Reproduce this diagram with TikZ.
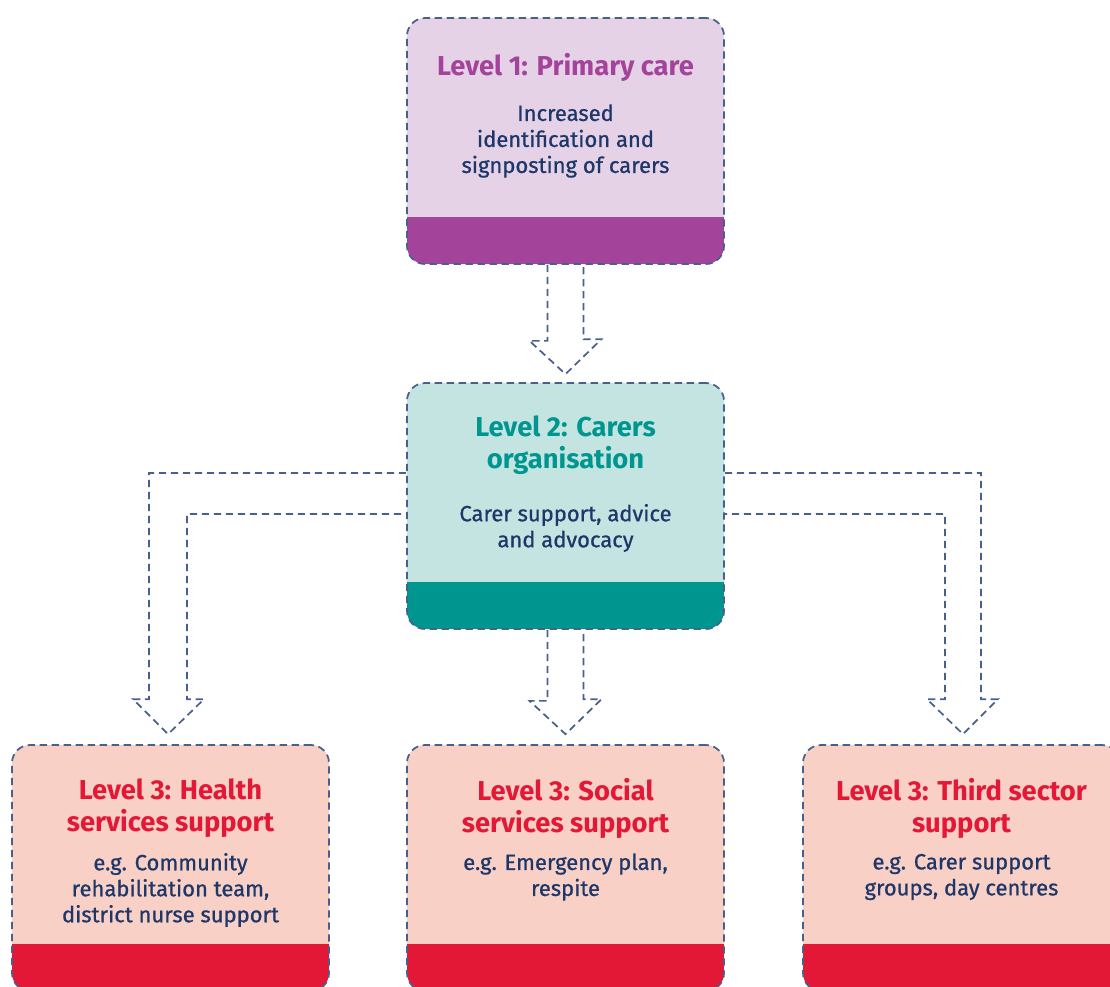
\documentclass[tikz,border=0pt]{standalone}
\usepackage{fontspec}
\setmainfont{Fira Sans}
\newfontfamily\bodyfont[FakeBold=0.8]{Fira Sans}
\usetikzlibrary{calc}
\definecolor{dashc}{RGB}{72,96,140}
\definecolor{navy}{RGB}{30,55,105}
\definecolor{purpleL}{RGB}{230,210,231}
\definecolor{purpleD}{RGB}{163,68,154}
\definecolor{tealL}{RGB}{196,228,226}
\definecolor{tealD}{RGB}{0,150,144}
\definecolor{redL}{RGB}{248,208,198}
\definecolor{redD}{RGB}{227,24,55}
\begin{document}
\begin{tikzpicture}[x=0.75pt,y=-0.75pt,
  box/.style={draw=dashc, line width=1.3pt, dash pattern=on 5.5pt off 3.5pt,
    rounded corners=13.5pt, minimum width=237.75pt, minimum height=184.5pt, inner sep=0pt},
  band/.style={path picture={\fill[#1, sharp corners] ([yshift=35.25pt]path picture bounding box.south west) rectangle (path picture bounding box.south east);}},
  conn/.style={draw=dashc, line width=1.3pt, dash pattern=on 5.5pt off 3.5pt},
  title/.style={font=\bfseries\fontsize{20.5}{24}\selectfont, align=center, text=#1},
  body/.style={font=\bodyfont\fontsize{16.5}{19.5}\selectfont, align=center, text=navy}]
\useasboundingbox (0,0) rectangle (1110,986);
\clip (0,0) rectangle (1110,986);

% boxes
\node[box, fill=purpleL, band=purpleD] (l1) at (565.5,141) {};
\node[box, fill=tealL, band=tealD] (l2) at (565.5,506) {};
\node[box, fill=redL, band=redD] (l3a) at (170.5,868) {};
\node[box, fill=redL, band=redD] (l3b) at (565.5,868) {};
\node[box, fill=redL, band=redD] (l3c) at (961.5,868) {};

% texts
\node[title=purpleD] (t1) at ($(l1)+(0,-74)$) {Level 1: Primary care};
\node[body] (b1) at ($(l1)+(0,0)$) {Increased\\identification and\\signposting of carers};
\node[title=tealD] (t2) at ($(l2)+(0,-61)$) {Level 2: Carers\\organisation};
\node[body] (b2) at ($(l2)+(0,22)$) {Carer support, advice\\and advocacy};
\node[title=redD] (t3a) at ($(l3a)+(0,-60)$) {Level 3: Health\\services support};
\node[body] (b3a) at ($(l3a)+(0,22)$) {e.g. Community\\rehabilitation team,\\district nurse support};
\node[title=redD] (t3b) at ($(l3b)+(0,-60)$) {Level 3: Social\\services support};
\node[body] (b3b) at ($(l3b)+(0,9)$) {e.g. Emergency plan,\\respite};
\node[title=redD] (t3c) at ($(l3c)+(0,-60)$) {Level 3: Third sector\\support};
\node[body] (b3c) at ($(l3c)+(0,9)$) {e.g. Carer support\\groups, day centres};

% hollow arrows
\draw[conn] ($(l1.south)+(-18,0)$) -- ++(0,76) -- ++(-18,0) -- ($(l2.north)+(0,-8)$)
  -- ++(36,-35) -- ++(-18,0) -- ($(l1.south)+(18,0)$);
\draw[conn] ($(l2.south)+(-18,0)$) -- ++(0,71) -- ++(-18,0) -- ($(l3b.north)+(0,-10)$)
  -- ++(36,-35) -- ++(-18,0) -- ($(l2.south)+(18,0)$);
\draw[conn] ($(l2.west)+(0,-33)$) -| ($(l3a.north)+(-21.5,-45)$) -- ++(-16,0)
  -- ($(l3a.north)+(-2.5,-10)$) -- ++(36,-35) -- ++(-17,0) |- ($(l2.west)+(0,8)$);
\draw[conn] ($(l2.east)+(0,-33)$) -| ($(l3c.north)+(19.5,-45)$) -- ++(17,0)
  -- ($(l3c.north)+(1.5,-10)$) -- ++(-36,-35) -- ++(18,0) |- ($(l2.east)+(0,8)$);
\end{tikzpicture}
\end{document}
